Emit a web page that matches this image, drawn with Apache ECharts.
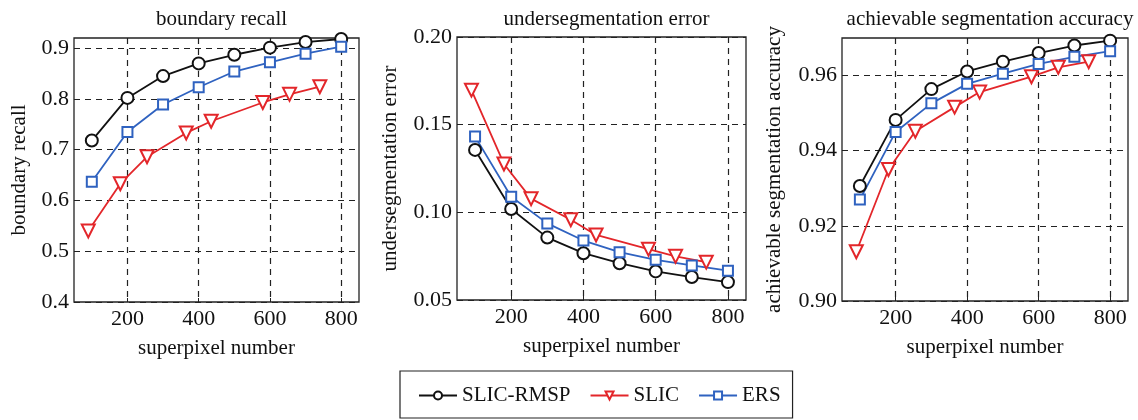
<!DOCTYPE html>
<html lang="en">
<head>
    <meta charset="UTF-8">
    <title>superpixel comparison</title>
    <style>
        html, body { margin: 0; padding: 0; background: #fff; }
        #chart { width: 1138px; height: 420px; }
    </style>
</head>
<body>
<div id="chart"></div>
<script src="https://cdn.jsdelivr.net/npm/echarts@6/dist/echarts.min.js"></script>
<script>
    // superpixel numbers
    var xMain = [100, 200, 300, 400, 500, 600, 700, 800];
    var xSlic = [90, 180, 255, 365, 435, 580, 655, 740];
    var xTicks = [200, 400, 600, 800];

    // boundary recall
    var recallRmsp = [0.718, 0.802, 0.845, 0.870, 0.887, 0.901, 0.912, 0.918];
    var recallSlic = [0.540, 0.633, 0.686, 0.733, 0.756, 0.793, 0.809, 0.824];
    var recallErs  = [0.637, 0.735, 0.789, 0.823, 0.854, 0.872, 0.889, 0.903];
    var recallTicks = [0.4, 0.5, 0.6, 0.7, 0.8, 0.9];

    // undersegmentation error
    var errRmsp = [0.1356, 0.1019, 0.0856, 0.0767, 0.0710, 0.0663, 0.0631, 0.0602];
    var errSlic = [0.1697, 0.1276, 0.1078, 0.0958, 0.0871, 0.0790, 0.0749, 0.0716];
    var errErs  = [0.1432, 0.1089, 0.0937, 0.0839, 0.0773, 0.0729, 0.0697, 0.0667];
    var errTicks = [0.05, 0.10, 0.15, 0.20];

    // achievable segmentation accuracy
    var asaRmsp = [0.9306, 0.9482, 0.9564, 0.9611, 0.9637, 0.9660, 0.9680, 0.9693];
    var asaSlic = [0.9131, 0.9350, 0.9452, 0.9516, 0.9556, 0.9597, 0.9622, 0.9637];
    var asaErs  = [0.9270, 0.9450, 0.9526, 0.9578, 0.9605, 0.9631, 0.9650, 0.9665];
    var asaTicks = [0.90, 0.92, 0.94, 0.96];

    var FONT = "'Liberation Serif', 'DejaVu Serif', serif";
    var BLACK = "#111", RED = "#e3262a", BLUE = "#2f62c0";

    function pairs(xs, ys) {
        return xs.map(function (x, i) { return [x, ys[i]]; });
    }

    var grids = [
        {left: 74, top: 38, width: 285, height: 264},
        {left: 457, top: 37, width: 289, height: 263},
        {left: 842, top: 38, width: 286, height: 263}
    ];
    var titles = ["boundary recall", "undersegmentation error", "achievable segmentation accuracy"];
    var yNames = ["boundary recall", "undersegmentation error", "achievable segmentation accuracy"];
    var yRanges = [[0.4, 0.92], [0.05, 0.20], [0.90, 0.97]];
    var yTicks = [recallTicks, errTicks, asaTicks];
    var yDigits = [1, 2, 2];
    var yGaps = [44, 56, 57];
    var data = [
        [recallRmsp, recallSlic, recallErs],
        [errRmsp, errSlic, errErs],
        [asaRmsp, asaSlic, asaErs]
    ];

    var dashed = {show: true, lineStyle: {color: "#222", type: [6, 5], width: 1.2}};

    var option = {
        animation: false,
        backgroundColor: "#fff",
        textStyle: {fontFamily: FONT},
        title: [],
        grid: [],
        xAxis: [],
        yAxis: [],
        series: [],
        legend: {
            left: 400, top: 371,
            itemWidth: 38, itemHeight: 10, itemGap: 19,
            padding: [14, 12, 12, 18],
            borderColor: "#222", borderWidth: 1.2,
            textStyle: {fontFamily: FONT, fontSize: 21, color: "#111"},
            data: ["SLIC-RMSP", "SLIC", "ERS"]
        }
    };

    for (var i = 0; i < 3; i++) {
        var g = grids[i];
        option.grid.push({
            left: g.left, top: g.top, width: g.width, height: g.height,
            show: true, borderColor: "#222", borderWidth: 1.3, backgroundColor: "#fff"
        });
        option.title.push({
            text: titles[i],
            left: g.left + g.width / 2, top: 4, textAlign: "center",
            textStyle: {fontFamily: FONT, fontSize: 21, fontWeight: "normal", color: "#111"}
        });
        option.xAxis.push({
            type: "value", gridIndex: i, min: 50, max: 850,
            name: "superpixel number", nameLocation: "middle", nameGap: 36,
            nameTextStyle: {fontFamily: FONT, fontSize: 21, color: "#111"},
            axisLine: {show: false},
            axisTick: {show: true, inside: true, length: 4, customValues: xTicks, lineStyle: {color: "#222"}},
            axisLabel: {customValues: xTicks, fontFamily: FONT, fontSize: 22, color: "#111", margin: 6},
            splitLine: dashed
        });
        (function (d) {
            option.yAxis.push({
                type: "value", gridIndex: i, min: yRanges[i][0], max: yRanges[i][1],
                name: yNames[i], nameLocation: "middle", nameGap: yGaps[i],
                nameTextStyle: {fontFamily: FONT, fontSize: 21, color: "#111"},
                axisLine: {show: false},
                axisTick: {show: true, inside: true, length: 4, customValues: yTicks[i], lineStyle: {color: "#222"}},
                axisLabel: {
                    customValues: yTicks[i], fontFamily: FONT, fontSize: 22, color: "#111", margin: 5,
                    formatter: function (v) { return v.toFixed(d); }
                },
                splitLine: dashed
            });
        })(yDigits[i]);

        var sets = data[i];
        option.series.push({
            name: "SLIC-RMSP", type: "line", xAxisIndex: i, yAxisIndex: i,
            data: pairs(xMain, sets[0]), symbol: "emptyCircle", symbolSize: 12,
            lineStyle: {color: BLACK, width: 1.8},
            itemStyle: {color: BLACK, borderWidth: 1.8}
        });
        option.series.push({
            name: "SLIC", type: "line", xAxisIndex: i, yAxisIndex: i,
            data: pairs(xSlic, sets[1]), symbol: "emptyTriangle", symbolRotate: 180, symbolSize: 13,
            lineStyle: {color: RED, width: 1.8},
            itemStyle: {color: RED, borderWidth: 1.8}
        });
        option.series.push({
            name: "ERS", type: "line", xAxisIndex: i, yAxisIndex: i,
            data: pairs(xMain, sets[2]), symbol: "emptyRect", symbolSize: 10,
            lineStyle: {color: BLUE, width: 1.8},
            itemStyle: {color: BLUE, borderWidth: 1.8}
        });
    }

    var chart = echarts.init(document.getElementById("chart"), null, {renderer: "canvas"});
    chart.setOption(option);
</script>
</body>
</html>
